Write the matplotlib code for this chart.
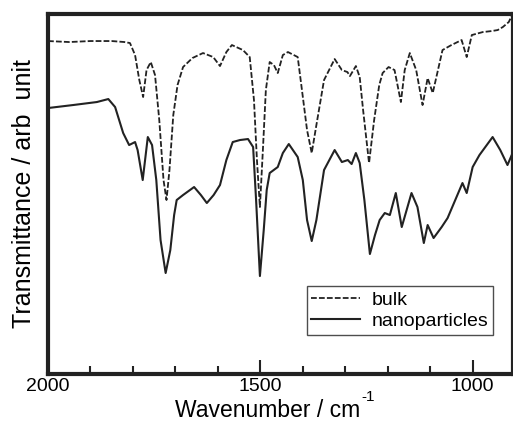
import numpy as np
import matplotlib
matplotlib.use("Agg")
import matplotlib.pyplot as plt
from matplotlib.ticker import MultipleLocator

plt.rcParams['font.family'] = ['Liberation Sans', 'DejaVu Sans']

# IR spectra (wavenumber / cm-1, transmittance in arb. units)
bulk_wn = [2000, 1950, 1900, 1850, 1820, 1807, 1795, 1785, 1776, 1768, 1758, 1748,
           1738, 1728, 1721, 1714, 1705, 1695, 1682, 1660, 1635, 1611, 1595, 1580,
           1567, 1541, 1525, 1515, 1508, 1501, 1494, 1487, 1478, 1468, 1459, 1447,
           1435, 1412, 1402, 1390, 1379, 1368, 1350, 1325, 1308, 1295, 1289, 1275,
           1266, 1258, 1244, 1232, 1220, 1212, 1198, 1184, 1169, 1160, 1148, 1133,
           1118, 1106, 1094, 1071, 1050, 1026, 1014, 1002, 976, 955, 941, 929, 915, 906]
bulk_t = [333, 332, 333, 333, 332, 331, 319, 294, 277, 304, 312, 299,
          254, 194, 174, 204, 259, 289, 307, 316, 321, 317, 308, 322,
          329, 324, 317, 274, 214, 167, 224, 284, 312, 309, 301, 319,
          322, 317, 284, 244, 221, 249, 294, 315, 304, 302, 298, 308,
          297, 264, 211, 254, 289, 301, 307, 304, 272, 304, 321, 304,
          269, 296, 281, 324, 329, 334, 317, 339, 342, 343, 344, 347, 352, 360]

nano_wn = [2000, 1941, 1885, 1858, 1842, 1823, 1809, 1795, 1789, 1777, 1765, 1755,
           1745, 1735, 1723, 1712, 1703, 1697, 1682, 1656, 1640, 1626, 1610, 1595,
           1580, 1565, 1548, 1529, 1517, 1510, 1501, 1492, 1485, 1478, 1459, 1447,
           1433, 1412, 1400, 1390, 1379, 1368, 1350, 1325, 1308, 1294, 1285, 1275,
           1266, 1255, 1242, 1230, 1219, 1207, 1195, 1181, 1167, 1144, 1130, 1115,
           1106, 1092, 1073, 1059, 1038, 1024, 1014, 1000, 984, 953, 935, 918, 906]
nano_t = [266, 269, 272, 275, 267, 241, 229, 232, 224, 194, 237, 229,
          194, 134, 101, 124, 159, 174, 179, 187, 179, 171, 179, 189,
          214, 232, 234, 235, 227, 174, 98, 144, 184, 201, 207, 221,
          230, 217, 194, 154, 133, 154, 204, 224, 212, 214, 210, 221,
          211, 174, 120, 139, 154, 161, 159, 181, 147, 181, 167, 131,
          149, 136, 147, 156, 177, 191, 181, 207, 219, 237, 224, 209, 221]

fig = plt.figure(figsize=(5.13, 4.23), dpi=100)
ax = fig.add_axes([0.0936, 0.1158, 0.9064, 0.851])

ax.plot(bulk_wn, bulk_t, color='#222222', lw=1.3, ls=(0, (3.2, 1.2)), label='bulk')
ax.plot(nano_wn, nano_t, color='#222222', lw=1.5, label='nanoparticles')

ax.set_xlim(2000, 905)
ax.set_ylim(0, 360)
ax.xaxis.set_major_locator(MultipleLocator(500))
ax.xaxis.set_minor_locator(MultipleLocator(100))
ax.tick_params(axis='x', which='major', direction='in', length=10, width=1.5,
               labelsize=14, pad=3, color='#222222')
ax.tick_params(axis='x', which='minor', direction='in', length=6, width=1.5,
               color='#222222')
ax.set_yticks([])
for s in ax.spines.values():
    s.set_linewidth(3)
    s.set_color('#222222')

# x label drawn as plain text plus a small raised "-1"
xl = fig.text(175 / 513, 1 - 417 / 423, 'Wavenumber / cm', fontsize=16.5,
              ha='left', va='baseline')
fig.canvas.draw()
bb = xl.get_window_extent()
fig.text((bb.x1 + 1) / 513, 1 - 401 / 423, '-1', fontsize=11, ha='left', va='baseline')

ax.set_ylabel('Transmittance / arb  unit', fontsize=18, labelpad=9)

leg = ax.legend(loc='upper left', bbox_to_anchor=(0.556, 0.244), fontsize=14,
                frameon=True, fancybox=False, handlelength=2.5, borderpad=0.25,
                labelspacing=0.2, handletextpad=0.6, borderaxespad=0)
leg.get_frame().set_edgecolor('#222222')
leg.get_frame().set_linewidth(1.0)

fig.savefig('out.png', dpi=100)
